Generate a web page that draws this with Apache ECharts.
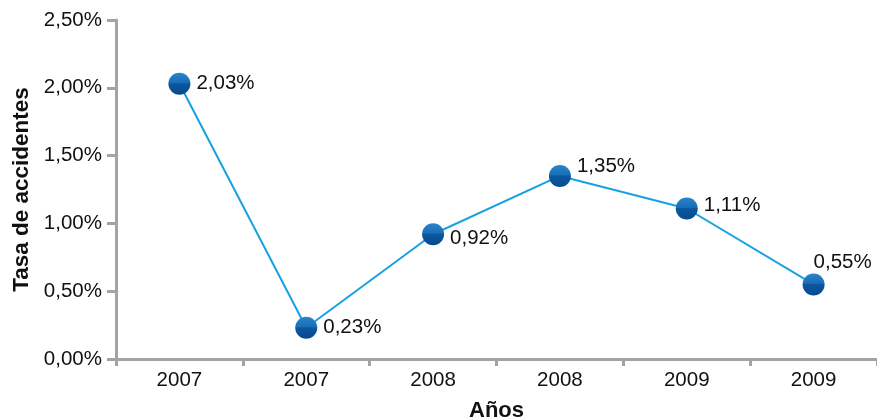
<!DOCTYPE html>
<html>
<head>
<meta charset="utf-8">
<script src="https://cdn.jsdelivr.net/npm/echarts@6/dist/echarts.min.js"></script>
<style>
  html, body { margin: 0; padding: 0; background: #fff; }
  #chart { width: 877px; height: 419px; }
</style>
</head>
<body>
<div id="chart"></div>
<script>
// datos
const categories = ['2007', '2007', '2008', '2008', '2009', '2009'];
const tasas = [2.03, 0.23, 0.92, 1.35, 1.11, 0.55];
const labelOffsets = [[0, 0], [0, 0], [0, 4], [0, -10], [0, -3], [-17, -22]];

const fmt = v => v.toFixed(2).replace('.', ',') + '%';
const font = 'Liberation Sans, Arial, Helvetica, sans-serif';
const gris = '#a3a3a3';

const chart = echarts.init(document.getElementById('chart'));

const serie = tasas.map((v, i) => ({
  value: v,
  label: { offset: labelOffsets[i] }
}));

const option = {
  animation: false,
  grid: { left: 116, right: 0, top: 20, bottom: 60, outerBoundsMode: 'none', containLabel: false },
  xAxis: {
    type: 'category',
    data: categories,
    boundaryGap: true,
    name: 'Años',
    nameLocation: 'middle',
    nameGap: 41,
    nameTextStyle: { fontFamily: font, fontSize: 22, fontWeight: 'bold', color: '#111' },
    axisLine: { lineStyle: { color: gris, width: 3 } },
    axisTick: { show: true, length: 7, inside: false, lineStyle: { color: gris, width: 3 } },
    axisLabel: { fontFamily: font, fontSize: 20.5, color: '#111', margin: 11 },
    splitLine: { show: false }
  },
  yAxis: {
    type: 'value',
    min: 0,
    max: 2.5,
    interval: 0.5,
    name: 'Tasa de accidentes',
    nameLocation: 'middle',
    nameGap: 83,
    nameTextStyle: { fontFamily: font, fontSize: 22.5, fontWeight: 'bold', color: '#111' },
    axisLine: { show: true, lineStyle: { color: gris, width: 3 } },
    axisTick: { show: true, length: 9, lineStyle: { color: gris, width: 3 } },
    axisLabel: {
      fontFamily: font, fontSize: 20.5, color: '#111', margin: 14,
      formatter: v => fmt(v)
    },
    splitLine: { show: false }
  },
  series: [{
    type: 'line',
    data: serie,
    symbol: 'circle',
    symbolSize: 22,
    lineStyle: { color: '#16a2e2', width: 2 },
    itemStyle: {
      color: {
        type: 'linear', x: 0, y: 0, x2: 0, y2: 1,
        colorStops: [
          { offset: 0, color: '#2a84cc' },
          { offset: 0.45, color: '#1a6db8' },
          { offset: 0.5, color: '#0b57a0' },
          { offset: 1, color: '#084a8e' }
        ]
      },
      borderWidth: 0
    },
    label: {
      show: true,
      position: 'right',
      distance: 6,
      fontFamily: font,
      fontSize: 20.5,
      color: '#111',
      formatter: p => fmt(p.value)
    }
  }]
};

chart.setOption(option);
</script>
</body>
</html>
